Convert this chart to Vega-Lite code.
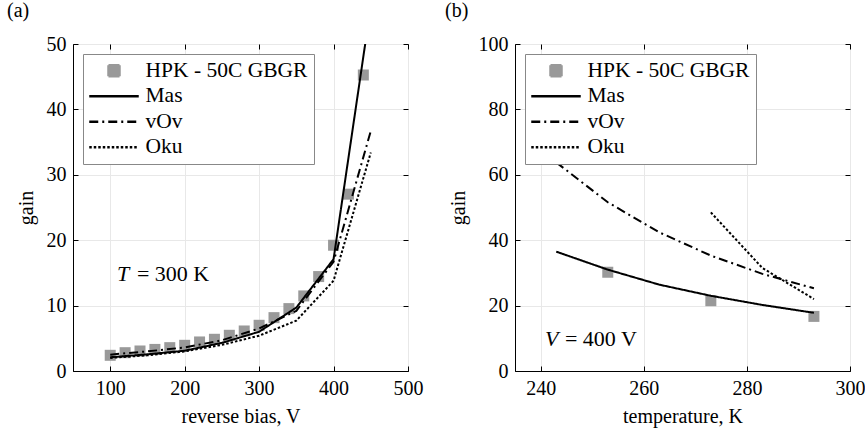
{
  "$schema": "https://vega.github.io/schema/vega-lite/v6.json",
  "background": "white",
  "padding": {"left": 6, "top": 0, "right": 0, "bottom": 6},
  "spacing": 20,
  "resolve": {"scale": {"color": "independent", "strokeDash": "independent"}, "legend": {"color": "independent"}},
  "datasets": {
    "bias": [
      {"series": "HPK - 50C GBGR", "v": 100, "gain": 2.4},
      {"series": "HPK - 50C GBGR", "v": 120, "gain": 2.8},
      {"series": "HPK - 50C GBGR", "v": 140, "gain": 3.06},
      {"series": "HPK - 50C GBGR", "v": 160, "gain": 3.3},
      {"series": "HPK - 50C GBGR", "v": 180, "gain": 3.57},
      {"series": "HPK - 50C GBGR", "v": 200, "gain": 3.93},
      {"series": "HPK - 50C GBGR", "v": 220, "gain": 4.44},
      {"series": "HPK - 50C GBGR", "v": 240, "gain": 4.85},
      {"series": "HPK - 50C GBGR", "v": 260, "gain": 5.46},
      {"series": "HPK - 50C GBGR", "v": 280, "gain": 6.12},
      {"series": "HPK - 50C GBGR", "v": 300, "gain": 6.99},
      {"series": "HPK - 50C GBGR", "v": 320, "gain": 8.16},
      {"series": "HPK - 50C GBGR", "v": 340, "gain": 9.54},
      {"series": "HPK - 50C GBGR", "v": 360, "gain": 11.48},
      {"series": "HPK - 50C GBGR", "v": 380, "gain": 14.44},
      {"series": "HPK - 50C GBGR", "v": 400, "gain": 19.23},
      {"series": "HPK - 50C GBGR", "v": 420, "gain": 27.04},
      {"series": "HPK - 50C GBGR", "v": 440, "gain": 45.26},
      {"series": "Mas", "v": 100, "gain": 2.1},
      {"series": "Mas", "v": 150, "gain": 2.55},
      {"series": "Mas", "v": 200, "gain": 3.1},
      {"series": "Mas", "v": 250, "gain": 4.3},
      {"series": "Mas", "v": 300, "gain": 6.0},
      {"series": "Mas", "v": 350, "gain": 9.7},
      {"series": "Mas", "v": 400, "gain": 17.1},
      {"series": "Mas", "v": 450, "gain": 55.8},
      {"series": "vOv", "v": 100, "gain": 2.5},
      {"series": "vOv", "v": 150, "gain": 3.0},
      {"series": "vOv", "v": 200, "gain": 3.6},
      {"series": "vOv", "v": 250, "gain": 4.7},
      {"series": "vOv", "v": 300, "gain": 6.5},
      {"series": "vOv", "v": 350, "gain": 9.2},
      {"series": "vOv", "v": 400, "gain": 16.7},
      {"series": "vOv", "v": 450, "gain": 36.7},
      {"series": "Oku", "v": 100, "gain": 2.0},
      {"series": "Oku", "v": 150, "gain": 2.4},
      {"series": "Oku", "v": 200, "gain": 3.0},
      {"series": "Oku", "v": 250, "gain": 4.0},
      {"series": "Oku", "v": 300, "gain": 5.4},
      {"series": "Oku", "v": 350, "gain": 7.7},
      {"series": "Oku", "v": 400, "gain": 13.8},
      {"series": "Oku", "v": 450, "gain": 33.4}
    ],
    "temp": [
      {"series": "HPK - 50C GBGR", "t": 253, "gain": 30.2},
      {"series": "HPK - 50C GBGR", "t": 273, "gain": 21.5},
      {"series": "HPK - 50C GBGR", "t": 293, "gain": 16.7},
      {"series": "Mas", "t": 243, "gain": 36.5},
      {"series": "Mas", "t": 253, "gain": 31.0},
      {"series": "Mas", "t": 263, "gain": 26.4},
      {"series": "Mas", "t": 273, "gain": 23.0},
      {"series": "Mas", "t": 283, "gain": 20.2},
      {"series": "Mas", "t": 293, "gain": 17.8},
      {"series": "vOv", "t": 243, "gain": 63.8},
      {"series": "vOv", "t": 253, "gain": 51.6},
      {"series": "vOv", "t": 263, "gain": 42.4},
      {"series": "vOv", "t": 273, "gain": 35.3},
      {"series": "vOv", "t": 283, "gain": 29.7},
      {"series": "vOv", "t": 293, "gain": 25.3},
      {"series": "Oku", "t": 273, "gain": 48.5},
      {"series": "Oku", "t": 283, "gain": 31.5},
      {"series": "Oku", "t": 293, "gain": 22.0}
    ]
  },
  "config": {
    "font": "Liberation Serif",
    "view": {"stroke": "black", "strokeWidth": 1},
    "title": {"font": "Liberation Serif", "fontSize": 20, "fontWeight": "normal", "color": "black", "anchor": "start", "frame": "group"},
    "axis": {
      "labelFont": "Liberation Serif", "labelFontSize": 20, "labelColor": "black", "labelFlush": false,
      "titleFont": "Liberation Serif", "titleFontSize": 20, "titleFontWeight": "normal", "titleColor": "black",
      "domainColor": "black", "tickColor": "black", "tickSize": -5, "labelPadding": 12,
      "gridColor": "#e8e8e8", "gridWidth": 1
    },
    "legend": {
      "labelFont": "Liberation Serif", "labelFontSize": 21.5, "labelColor": "black", "labelLimit": 400
    }
  },
  "hconcat": [
    {
      "title": {"text": "(a)", "dx": -66, "offset": 13},
      "width": 335,
      "height": 327,
      "resolve": {"axis": {"x": "independent", "y": "independent"}},
      "layer": [
        {
          "data": {"name": "bias"},
          "encoding": {
            "x": {"field": "v", "type": "quantitative", "scale": {"domain": [60, 500]},
                  "axis": {"title": "reverse bias, V", "values": [100, 200, 300, 400, 500], "titlePadding": 8}},
            "y": {"field": "gain", "type": "quantitative", "scale": {"domain": [0, 50]},
                  "axis": {"title": "gain", "values": [0, 10, 20, 30, 40, 50], "titlePadding": 10}},
            "color": {"field": "series", "type": "nominal",
                      "scale": {"domain": ["HPK - 50C GBGR", "Mas", "vOv", "Oku"], "range": ["#999999", "black", "black", "black"]},
                      "legend": {
                        "title": null, "orient": "top-left", "offset": 10,
                        "fillColor": "white", "strokeColor": "#888888", "padding": 6,
                        "symbolSize": 121, "rowPadding": 2.5, "labelOffset": 35, "labelLimit": 400,
                        "encode": {"symbols": {"update": {
                          "x": {"value": 25},
                          "shape": {"signal": "datum.value === 'HPK - 50C GBGR' ? 'square' : 'M-4.5,0H4.5'"},
                          "size": {"value": 121},
                          "fill": {"signal": "datum.value === 'HPK - 50C GBGR' ? '#999999' : 'transparent'"},
                          "stroke": {"signal": "datum.value === 'HPK - 50C GBGR' ? 'transparent' : 'black'"},
                          "strokeDash": {"signal": "datum.value === 'vOv' ? [9,4,2,4] : datum.value === 'Oku' ? [2.5,2] : [1,0]"},
                          "strokeWidth": {"value": 2.5},
                          "opacity": {"value": 1}
                        }}}
                      }}
          },
          "layer": [
            {
              "transform": [{"filter": "datum.series === 'HPK - 50C GBGR'"}],
              "mark": {"type": "point", "shape": "square", "filled": true, "size": 121, "opacity": 1}
            },
            {
              "transform": [{"filter": "datum.series !== 'HPK - 50C GBGR'"}],
              "mark": {"type": "line", "strokeWidth": 2, "clip": true},
              "encoding": {
                "strokeDash": {"field": "series", "type": "nominal",
                               "scale": {"domain": ["HPK - 50C GBGR", "Mas", "vOv", "Oku"], "range": [[1, 0], [1, 0], [9, 4, 2, 4], [2.5, 2]]},
                               "legend": null}
              }
            }
          ]
        },
        {
          "data": {"values": [{"x": 109, "y": 14.8, "sym": "T", "rest": "= 300 K"}]},
          "mark": {"type": "text", "align": "left", "baseline": "middle", "fontSize": 22, "fontStyle": "italic", "font": "Liberation Serif"},
          "encoding": {
            "x": {"field": "x", "type": "quantitative",
                  "axis": {"orient": "top", "values": [100, 200, 300, 400, 500], "labels": false, "title": null, "grid": false, "domain": false}},
            "y": {"field": "y", "type": "quantitative",
                  "axis": {"orient": "right", "values": [0, 10, 20, 30, 40, 50], "labels": false, "title": null, "grid": false, "domain": false}},
            "text": {"field": "sym"}
          }
        },
        {
          "data": {"values": [{"x": 109, "y": 14.8, "sym": "T", "rest": "= 300 K"}]},
          "mark": {"type": "text", "align": "left", "baseline": "middle", "fontSize": 22, "dx": 20, "font": "Liberation Serif"},
          "encoding": {"x": {"field": "x", "type": "quantitative", "axis": null}, "y": {"field": "y", "type": "quantitative", "axis": null}, "text": {"field": "rest"}}
        }
      ]
    },
    {
      "title": {"text": "(b)", "dx": -70, "offset": 13},
      "width": 335,
      "height": 327,
      "resolve": {"axis": {"x": "independent", "y": "independent"}},
      "layer": [
        {
          "data": {"name": "temp"},
          "encoding": {
            "x": {"field": "t", "type": "quantitative", "scale": {"domain": [235, 300]},
                  "axis": {"title": "temperature, K", "values": [240, 260, 280, 300], "titlePadding": 8}},
            "y": {"field": "gain", "type": "quantitative", "scale": {"domain": [0, 100]},
                  "axis": {"title": "gain", "values": [0, 20, 40, 60, 80, 100], "titlePadding": 10}},
            "color": {"field": "series", "type": "nominal",
                      "scale": {"domain": ["HPK - 50C GBGR", "Mas", "vOv", "Oku"], "range": ["#999999", "black", "black", "black"]},
                      "legend": {
                        "title": null, "orient": "top-left", "offset": 10,
                        "fillColor": "white", "strokeColor": "#888888", "padding": 6,
                        "symbolSize": 121, "rowPadding": 2.5, "labelOffset": 35, "labelLimit": 400,
                        "encode": {"symbols": {"update": {
                          "x": {"value": 25},
                          "shape": {"signal": "datum.value === 'HPK - 50C GBGR' ? 'square' : 'M-4.5,0H4.5'"},
                          "size": {"value": 121},
                          "fill": {"signal": "datum.value === 'HPK - 50C GBGR' ? '#999999' : 'transparent'"},
                          "stroke": {"signal": "datum.value === 'HPK - 50C GBGR' ? 'transparent' : 'black'"},
                          "strokeDash": {"signal": "datum.value === 'vOv' ? [9,4,2,4] : datum.value === 'Oku' ? [2.5,2] : [1,0]"},
                          "strokeWidth": {"value": 2.5},
                          "opacity": {"value": 1}
                        }}}
                      }}
          },
          "layer": [
            {
              "transform": [{"filter": "datum.series === 'HPK - 50C GBGR'"}],
              "mark": {"type": "point", "shape": "square", "filled": true, "size": 121, "opacity": 1}
            },
            {
              "transform": [{"filter": "datum.series !== 'HPK - 50C GBGR'"}],
              "mark": {"type": "line", "strokeWidth": 2, "clip": true},
              "encoding": {
                "strokeDash": {"field": "series", "type": "nominal",
                               "scale": {"domain": ["HPK - 50C GBGR", "Mas", "vOv", "Oku"], "range": [[1, 0], [1, 0], [9, 4, 2, 4], [2.5, 2]]},
                               "legend": null}
              }
            }
          ]
        },
        {
          "data": {"values": [{"x": 240.8, "y": 9.8, "sym": "V", "rest": "= 400 V"}]},
          "mark": {"type": "text", "align": "left", "baseline": "middle", "fontSize": 22, "fontStyle": "italic", "font": "Liberation Serif"},
          "encoding": {
            "x": {"field": "x", "type": "quantitative",
                  "axis": {"orient": "top", "values": [240, 260, 280, 300], "labels": false, "title": null, "grid": false, "domain": false}},
            "y": {"field": "y", "type": "quantitative",
                  "axis": {"orient": "right", "values": [0, 20, 40, 60, 80, 100], "labels": false, "title": null, "grid": false, "domain": false}},
            "text": {"field": "sym"}
          }
        },
        {
          "data": {"values": [{"x": 240.8, "y": 9.8, "sym": "V", "rest": "= 400 V"}]},
          "mark": {"type": "text", "align": "left", "baseline": "middle", "fontSize": 22, "dx": 20, "font": "Liberation Serif"},
          "encoding": {"x": {"field": "x", "type": "quantitative", "axis": null}, "y": {"field": "y", "type": "quantitative", "axis": null}, "text": {"field": "rest"}}
        }
      ]
    }
  ]
}
